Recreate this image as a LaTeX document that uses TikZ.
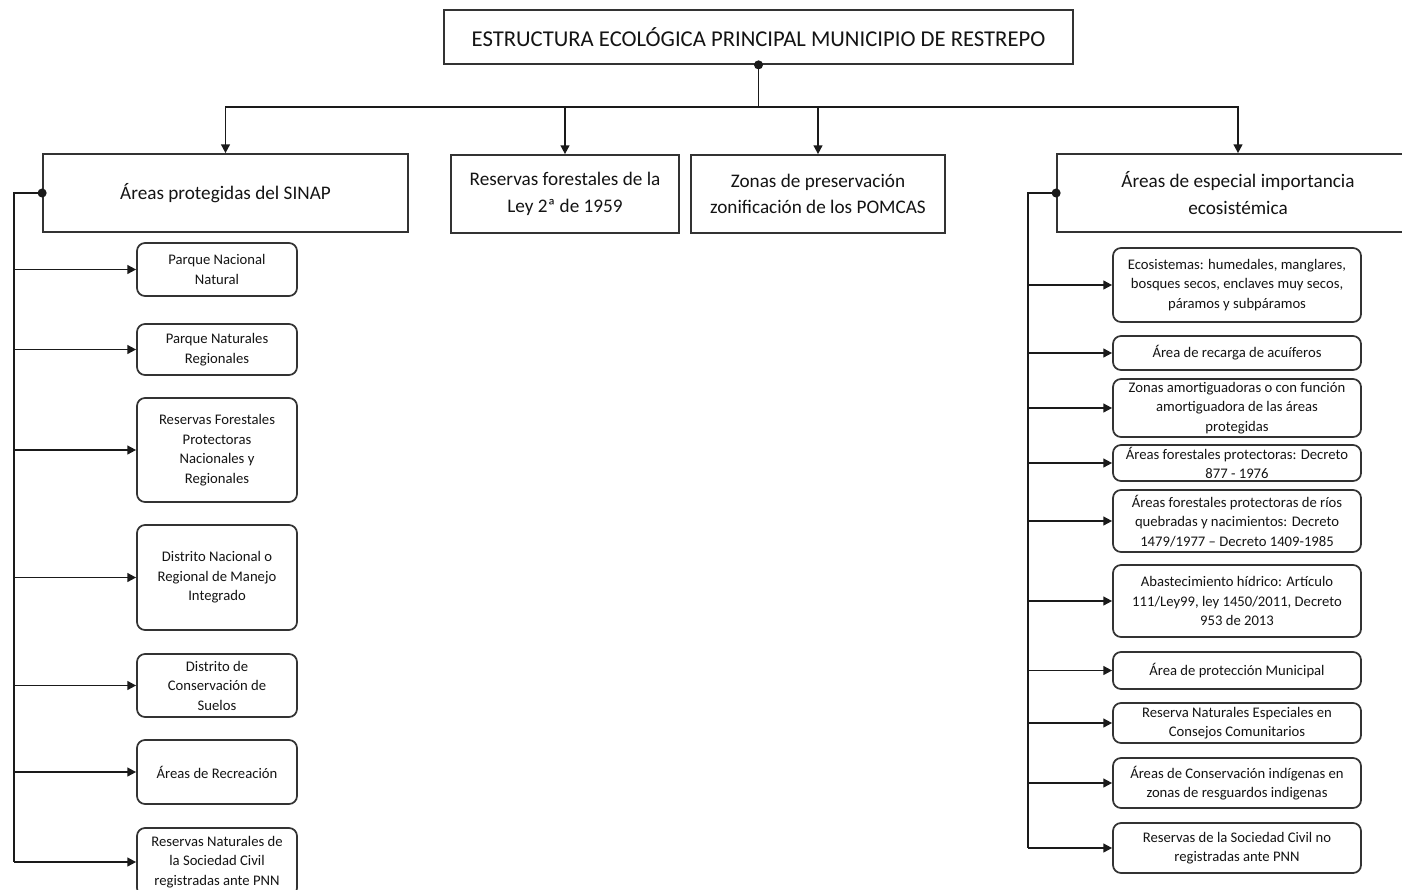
\documentclass[tikz,border=0pt]{standalone}
\usepackage{fontspec}
\setmainfont{Carlito}
\usetikzlibrary{arrows.meta}
\definecolor{linecol}{HTML}{1A1A1A}
\definecolor{boxcol}{HTML}{333333}
\definecolor{textcol}{HTML}{141414}
\tikzset{
  sq/.style={draw=boxcol, line width=1.3pt, inner sep=0pt, fill=white},
  rb/.style={draw=boxcol, line width=1.3pt, inner sep=0pt, rounded corners=6pt, fill=white},
  smalltxt/.style={font=\fontsize{11}{14.6}\selectfont, align=center, text=textcol, inner sep=0pt},
  headtxt/.style={font=\fontsize{14.4}{20}\selectfont, align=center, text=textcol, inner sep=0pt},
  titletxt/.style={font=\fontsize{17}{20}\selectfont, align=center, text=textcol, inner sep=0pt},
  conn/.style={draw=linecol, line width=1.3pt},
  arr/.style={conn, -{Triangle[length=6.5pt,width=6.5pt]}},
  dotstyle/.style={fill=linecol},
}
% #1 box style, #2 text style, #3 name, #4 x1, #5 y1, #6 x2, #7 y2, #8 text
\newcommand{\mybox}[8]{%
  \node[#1, minimum width={(#6-#4)*0.75pt}, minimum height={(#7-#5)*0.75pt}] (#3) at ({(#4+#6)/2},{(#5+#7)/2}) {};
  \node[#2] (#3t) at (#3.center) {#8};
}
\begin{document}
\begin{tikzpicture}[x=0.75pt,y=-0.75pt]
\useasboundingbox (0,0) rectangle (1402,889);
\fill[white] (0,0) rectangle (1402,889);

% title
\mybox{sq}{titletxt}{title}{444}{10}{1073}{64}{ESTRUCTURA ECOLÓGICA PRINCIPAL MUNICIPIO DE RESTREPO}

% headers
\mybox{sq}{headtxt}{h1}{43}{154}{408}{232}{Áreas protegidas del SINAP}
\mybox{sq}{headtxt}{h2}{451}{155}{679}{233}{Reservas forestales de la\\Ley 2ª de 1959}
\mybox{sq}{headtxt}{h3}{691}{155}{945}{233}{Zonas de preservación\\zonificación de los POMCAS}
\mybox{sq}{headtxt}{h4}{1057}{154}{1419}{232}{Áreas de especial importancia\\ecosistémica}

% left children
\mybox{rb}{smalltxt}{l1}{137}{243}{297}{296}{Parque Nacional\\Natural}
\mybox{rb}{smalltxt}{l2}{137}{324}{297}{375}{Parque  Naturales\\Regionales}
\mybox{rb}{smalltxt}{l3}{137}{398}{297}{502}{Reservas Forestales\\Protectoras\\Nacionales y\\Regionales}
\mybox{rb}{smalltxt}{l4}{137}{525}{297}{630}{Distrito Nacional o\\Regional de Manejo\\Integrado}
\mybox{rb}{smalltxt}{l5}{137}{654}{297}{717}{Distrito de\\Conservación de\\Suelos}
\mybox{rb}{smalltxt}{l6}{137}{740}{297}{804}{Áreas de Recreación}
\mybox{rb}{smalltxt}{l7}{137}{828}{297}{896}{Reservas Naturales de\\la Sociedad Civil\\registradas ante PNN}

% right children
\mybox{rb}{smalltxt}{r1}{1113}{248}{1361}{322}{Ecosistemas: humedales, manglares,\\bosques secos, enclaves muy secos,\\páramos y subpáramos}
\mybox{rb}{smalltxt}{r2}{1113}{336}{1361}{370}{Área de recarga de acuíferos}
\mybox{rb}{smalltxt}{r3}{1113}{379}{1361}{437}{Zonas amortiguadoras o con función\\amortiguadora de las áreas\\protegidas}
\mybox{rb}{smalltxt}{r4}{1113}{445}{1361}{481}{Áreas forestales protectoras: Decreto\\877 - 1976}
\mybox{rb}{smalltxt}{r5}{1113}{490}{1361}{552}{Áreas forestales protectoras de ríos\\quebradas y nacimientos: Decreto\\1479/1977 – Decreto 1409-1985}
\mybox{rb}{smalltxt}{r6}{1113}{565}{1361}{637}{Abastecimiento hídrico: Artículo\\111/Ley99, ley 1450/2011, Decreto\\953 de 2013}
\mybox{rb}{smalltxt}{r7}{1113}{652}{1361}{689}{Área de protección Municipal}
\mybox{rb}{smalltxt}{r8}{1113}{703}{1361}{743}{Reserva Naturales Especiales en\\Consejos Comunitarios}
\mybox{rb}{smalltxt}{r9}{1113}{758}{1361}{808}{Áreas de Conservación indígenas en\\zonas de resguardos indigenas}
\mybox{rb}{smalltxt}{r10}{1113}{823}{1361}{873}{Reservas de la Sociedad Civil no\\registradas ante PNN}

% top connectors
\coordinate (bus) at (758.5,107);
\draw[conn] (title.south) -- (bus);
\draw[arr] (bus) -| (h1.north);
\draw[arr] (bus) -| (h2.north);
\draw[arr] (bus) -| (h3.north);
\draw[arr] (bus) -| (h4.north);
\fill[dotstyle] (title.south) circle (3.4pt);

% left branch
\coordinate (L) at (14,193);
\draw[conn] (h1.west) -- (L) -- (L |- l7.west);
\foreach \n in {l1,l2,l3,l4,l5,l6,l7}{
  \draw[arr] (L |- \n.west) -- (\n.west);
}
\fill[dotstyle] (h1.west) circle (3.4pt);

% right branch
\coordinate (R) at (1028,193);
\draw[conn] (h4.west) -- (R) -- (R |- r10.west);
\foreach \n in {r1,r2,r3,r4,r5,r6,r7,r8,r9,r10}{
  \draw[arr] (R |- \n.west) -- (\n.west);
}
\fill[dotstyle] (h4.west) circle (3.4pt);
\end{tikzpicture}
\end{document}
